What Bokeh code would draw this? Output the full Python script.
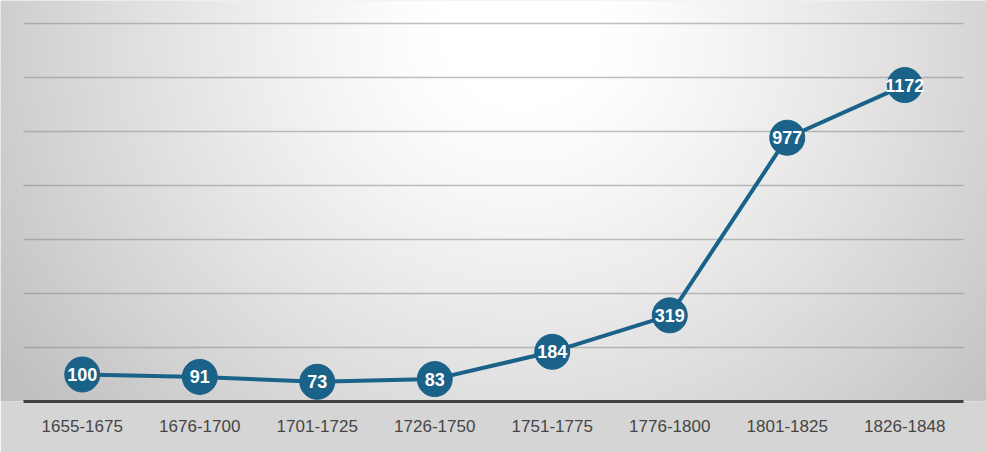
import numpy as np
from bokeh.plotting import figure
from bokeh.models import ColumnDataSource, Range1d, FixedTicker
from bokeh.core.properties import value
from bokeh.embed import file_html
from bokeh.resources import INLINE

# ---- data ----
categories = ["1655-1675", "1676-1700", "1701-1725", "1726-1750",
              "1751-1775", "1776-1800", "1801-1825", "1826-1848"]
values = [100, 91, 73, 83, 184, 319, 977, 1172]
y_ticks = [0, 200, 400, 600, 800, 1000, 1200, 1400]

# ---- layout constants ----
W, H = 986, 452
BOTTOM = 51
FRAME_H = H - BOTTOM
SIDE = 23                       # px between frame edge and plot area
CAT_W = (W - 2 * SIDE) / len(categories)
TOP_PAD = 23                    # px above the top gridline
PX_PER_UNIT = (FRAME_H - TOP_PAD) / y_ticks[-1]

x_idx = list(range(len(categories)))
x_start = -0.5 - SIDE / CAT_W
x_end = len(categories) - 0.5 + SIDE / CAT_W
y_end = FRAME_H / PX_PER_UNIT

src = ColumnDataSource(dict(x=x_idx, y=values, lab=[str(v) for v in values]))

p = figure(width=W, height=H, output_backend="svg", toolbar_location=None,
           x_range=Range1d(x_start, x_end), y_range=Range1d(0, y_end),
           y_axis_location=None, min_border_left=0, min_border_right=0,
           min_border_top=0, min_border_bottom=BOTTOM)
p.outline_line_color = None
p.border_fill_color = "#d5d5d5"
p.background_fill_color = "#e6e6e6"

# ---- radial gradient background (style only) ----
rows = np.arange(FRAME_H)[:, None]
cols = np.arange(W)[None, :]
d = np.sqrt(((cols - 520) / 550.0) ** 2 + ((rows - 30) / 520.0) ** 2)
v = 255 - 60 * np.clip((d - 0.15) / 0.95, 0, 1.05) ** 1.2
v = np.clip(v, 0, 255).astype(np.uint8)
img = np.empty((FRAME_H, W), dtype=np.uint32)
view = img.view(dtype=np.uint8).reshape((FRAME_H, W, 4))
view[..., 0] = v
view[..., 1] = v
view[..., 2] = v
view[..., 3] = 255
img = np.ascontiguousarray(np.flipud(img))
p.image_rgba(image=[img], x=x_start, y=0, dw=x_end - x_start, dh=y_end, level="image")

# ---- grid ----
p.xgrid.visible = False
p.ygrid.ticker = FixedTicker(ticks=y_ticks)
p.ygrid.grid_line_color = "#8c8c8c"
p.ygrid.grid_line_alpha = 0.55
p.ygrid.grid_line_width = 1.6
if "cross_bounds" in p.ygrid[0].properties():
    p.ygrid.cross_bounds = (-0.5, len(categories) - 0.5)

# ---- x axis ----
ax = p.xaxis[0]
ax.ticker = FixedTicker(ticks=x_idx)
ax.major_label_overrides = {i: c for i, c in zip(x_idx, categories)}
ax.bounds = (-0.5, len(categories) - 0.5)
ax.axis_line_color = "#404040"
ax.axis_line_width = 3
ax.major_tick_line_color = None
ax.minor_tick_line_color = None
ax.major_tick_out = 0
ax.major_tick_in = 0
ax.major_label_standoff = 18
ax.major_label_text_font = "Liberation Sans"
ax.major_label_text_font_size = "17px"
ax.major_label_text_color = "#454545"

# ---- series ----
col = "#1b6288"
p.line("x", "y", source=src, line_color=col, line_width=4)
p.scatter("x", "y", source=src, size=35, fill_color=col, line_color=col)
p.text("x", "y", text="lab", source=src, text_align="center", text_baseline="middle",
       text_color="white", text_font=value("Liberation Sans"), text_font_style="bold",
       text_font_size="18px")

open("out.html", "w").write(file_html(p, INLINE))
